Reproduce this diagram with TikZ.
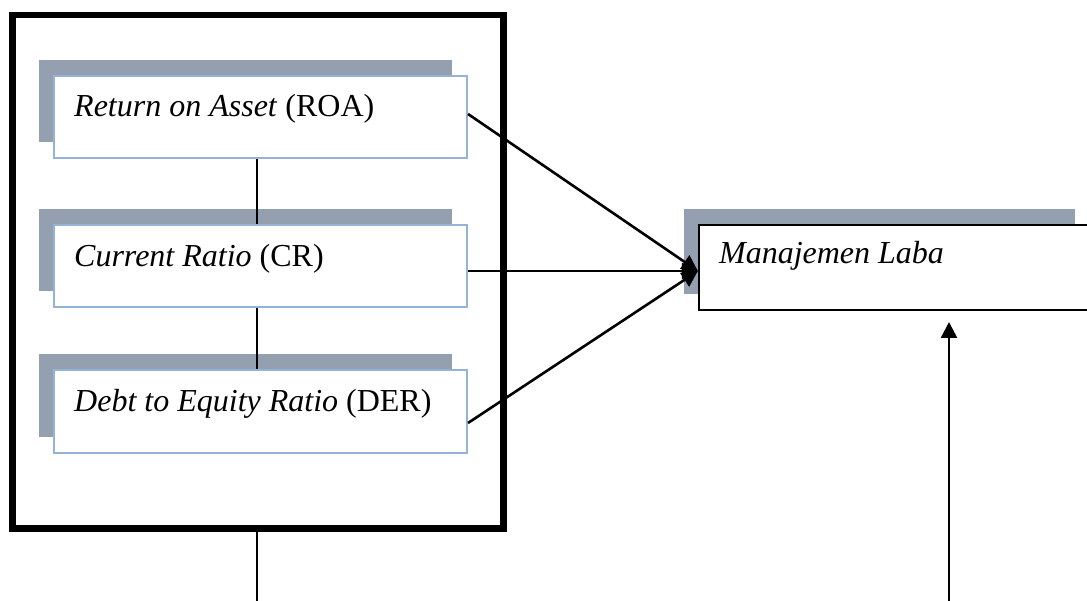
\documentclass[tikz,border=0pt]{standalone}
\usepackage{fontspec}
\setmainfont{Liberation Serif}
\usetikzlibrary{arrows.meta,shadows,calc}

\definecolor{shadowc}{RGB}{148,160,176}
\definecolor{edgeblue}{RGB}{149,179,215}

\tikzset{
  varbox/.style={rectangle, draw=edgeblue, line width=2pt, fill=white,
    minimum width=413pt, minimum height=82pt, inner sep=0pt,
    drop shadow={shadow xshift=-15pt, shadow yshift=16pt, opacity=1, fill=shadowc}},
  depbox/.style={rectangle, draw=black, line width=2.2pt, fill=white,
    minimum width=391pt, minimum height=85pt, inner sep=0pt,
    drop shadow={shadow xshift=-15pt, shadow yshift=16pt, opacity=1, fill=shadowc}},
  groupbox/.style={rectangle, draw=black, line width=6.5pt,
    minimum width=491pt, minimum height=513.5pt, inner sep=0pt},
  lbl/.style={anchor=base west, inner sep=0pt, font=\fontsize{32}{38}\selectfont},
  link/.style={draw=black, line width=1.8pt},
  flow/.style={draw=black, line width=2.6pt, -{Triangle[length=16pt,width=16pt]}},
}

\begin{document}
\begin{tikzpicture}[x=1pt, y=-1pt]
  \useasboundingbox (0,0) rectangle (1087,601);
  \clip (0,0) rectangle (1087,601);

  % grouping frame around the three ratios
  \node[groupbox] (grp) at (258,271.75) {};

  % independent variables
  \node[varbox] (roa) at (260.5,117) {};
  \node[varbox] (cr)  at (260.5,266.5) {};
  \node[varbox] (der) at (260.5,411.5) {};

  \node[lbl] (roat) at ([xshift=21pt,yshift=-42pt]roa.north west) {\textit{Return on Asset} (ROA)};
  \node[lbl] (crt)  at ([xshift=21pt,yshift=-42pt]cr.north west)  {\textit{Current Ratio} (CR)};
  \node[lbl] (dert) at ([xshift=21pt,yshift=-42pt]der.north west) {\textit{Debt to Equity Ratio} (DER)};

  % dependent variable
  \node[depbox] (ml) at (894.5,267.5) {};
  \node[lbl] (mlt) at ([xshift=21pt,yshift=-40pt]ml.north west) {\textit{Manajemen Laba}};

  % vertical links between the ratio boxes
  \draw[link] ([xshift=-3.5pt]roa.south) -- ([xshift=-3.5pt]cr.north);
  \draw[link] ([xshift=-3.5pt]cr.south) -- ([xshift=-3.5pt]der.north);

  % line leaving the frame at the bottom
  \coordinate (grpout) at (257,601);
  \draw[link] (grp.south -| grpout) -- (grpout);

  % arrows into the dependent variable
  \coordinate (tip) at ([yshift=-3.5pt]ml.west);
  \draw[flow] ([yshift=3pt]roa.east) -- (tip);
  \draw[flow] ([yshift=-4.5pt]cr.east) -- (tip);
  \draw[flow] ([yshift=-11.5pt]der.east) -- (tip);

  % arrow rising from below
  \coordinate (upstart) at (949,601);
  \coordinate (upend) at (949,322);
  \draw[flow] (upstart) -- (upend);
\end{tikzpicture}
\end{document}
